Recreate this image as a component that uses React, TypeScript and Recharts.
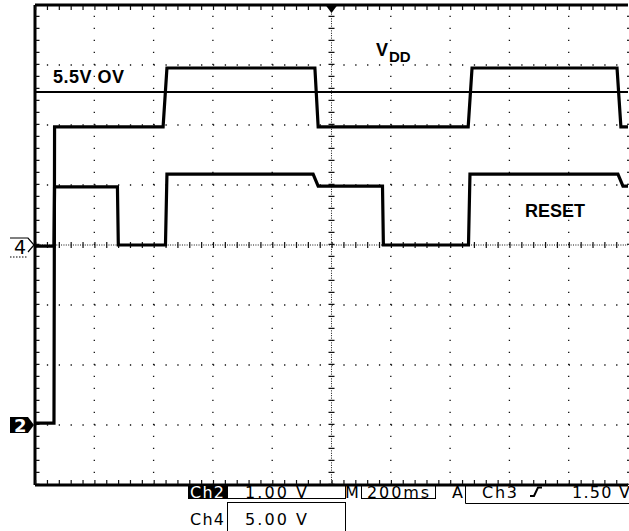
import { LineChart, Line, XAxis, YAxis, ReferenceLine, ReferenceDot } from 'recharts';

// time base: 200 ms/div, 10 divisions
const TIME_TICKS = [0, 200, 400, 600, 800, 1000, 1200, 1400, 1600, 1800, 2000];
const DIV_TICKS = [-4, -3, -2, -1, 0, 1, 2, 3, 4];

// Ch2 = VDD (1.00 V/div, ground 3 div below centre)
const CH2_VDIV = 1;
const CH2_POS = -3;
const VDD_T = [0, 64, 66, 432, 445, 944, 955, 1461, 1474, 1963, 1976, 2000];
const VDD_V = [0.03, 0.03, 4.97, 4.97, 5.95, 5.95, 4.97, 4.97, 5.95, 5.95, 4.97, 4.97];

// Ch4 = RESET (5.00 V/div, ground at centre)
const CH4_VDIV = 5;
const CH4_POS = 0;
const RESET_T = [0, 64, 66, 278, 281, 440, 445, 938, 955, 1172, 1175, 1462, 1467, 1966, 1983, 2000];
const RESET_V = [-0.1, -0.1, 4.85, 4.85, 0, 0, 5.9, 5.9, 4.9, 4.9, 0, 0, 5.9, 5.9, 4.9, 4.9];

// over-voltage threshold on Ch2
const OV_LEVEL = 5.55;
const OV_LABEL = '5.5V OV';

const READOUT_CH2 = ['Ch2', '1.00 V'];
const READOUT_CH4 = ['Ch4', '5.00 V'];
const READOUT_TIME = ['M', '200ms'];
const READOUT_TRIG = ['A', 'Ch3', '1.50 V'];

const vddData = VDD_T.map((t, i) => ({ t, y: VDD_V[i] / CH2_VDIV + CH2_POS }));
const resetData = RESET_T.map((t, i) => ({ t, y: RESET_V[i] / CH4_VDIV + CH4_POS }));

const W = 640;
const H = 531;
const M = { top: 5, left: 35, right: 12, bottom: 46 };
const PX_X = (W - M.left - M.right) / 10 / 5; // minor step horizontally
const PX_Y = (H - M.top - M.bottom) / 8 / 5; // minor step vertically
const MS_PER_PX = 2000 / (W - M.left - M.right);
const DIV_PER_PX = 8 / (H - M.top - M.bottom);

const INK = '#111';

function ChannelMarker(props: any) {
  const { cx, cy, label, filled } = props;
  const l = cx - 25;
  const r = cx - 7;
  if (filled) {
    return (
      <g>
        <path d={`M${l} ${cy - 8} L${r} ${cy - 8} L${cx - 1} ${cy} L${r} ${cy + 8} L${l} ${cy + 8} Z`} fill="#000" />
        <text x={l + 4} y={cy + 7} fill="#fff" fontFamily="DejaVu Sans" fontWeight="bold" fontSize={18}>{label}</text>
      </g>
    );
  }
  return (
    <g>
      <path d={`M${l} ${cy - 7} L${r} ${cy - 7} L${cx - 1} ${cy} L${r} ${cy + 7}`} fill="none" stroke="#000" strokeWidth={1.2} />
      <line x1={l} y1={cy + 12} x2={r} y2={cy + 12} stroke="#000" strokeWidth={1} strokeDasharray="1.5 1.5" />
      <text x={l + 4} y={cy + 9} fill="#000" fontFamily="DejaVu Sans" fontSize={19}>{label}</text>
    </g>
  );
}

function TriggerMark(props: any) {
  const { cx, cy } = props;
  return <path d={`M${cx - 6} ${cy} L${cx + 6} ${cy} L${cx} ${cy + 8} Z`} fill="#000" />;
}

export default function App() {
  const gridT = TIME_TICKS.filter((t) => t !== 0 && t !== 1000);
  const gridY = DIV_TICKS.filter((d) => d !== 0 && Math.abs(d) !== 4);
  const ro = { fontFamily: 'DejaVu Sans', fontSize: 16 } as const;

  return (
    <div style={{ position: 'absolute', left: 0, top: 0, width: 629, height: 531, overflow: 'hidden', background: '#fff' }}>
      <LineChart width={W} height={H} margin={M}>
        <XAxis type="number" dataKey="t" domain={[0, 2000]} ticks={TIME_TICKS} hide allowDataOverflow />
        <YAxis type="number" domain={[-4, 4]} ticks={DIV_TICKS} hide allowDataOverflow />

        {gridT.map((t) => (
          <ReferenceLine key={'gx' + t} x={t} stroke={INK} strokeWidth={1.3} strokeDasharray={`1.3 ${PX_Y - 1.3}`} />
        ))}
        {gridY.map((d) => (
          <ReferenceLine key={'gy' + d} y={d} stroke={INK} strokeWidth={1.3} strokeDasharray={`1.3 ${PX_X - 1.3}`} />
        ))}

        {/* centre crosshair with minor ticks */}
        <ReferenceLine x={1000} stroke={INK} strokeWidth={1} strokeDasharray="1 1.4" />
        <ReferenceLine x={1000} stroke={INK} strokeWidth={6} strokeDasharray={`1.2 ${PX_Y - 1.2}`} />
        <ReferenceLine y={0} stroke={INK} strokeWidth={1} strokeDasharray="1 1.37" />
        <ReferenceLine y={0} stroke={INK} strokeWidth={6} strokeDasharray={`1.2 ${PX_X - 1.2}`} />

        {/* frame with inner ticks */}
        <ReferenceLine x={0} stroke="#000" strokeWidth={3} />
        <ReferenceLine x={2.5 * MS_PER_PX} stroke={INK} strokeWidth={4} strokeDasharray={`1.2 ${PX_Y - 1.2}`} />
        <ReferenceLine y={4} stroke="#000" strokeWidth={3} />
        <ReferenceLine y={4 - 3 * DIV_PER_PX} stroke={INK} strokeWidth={4} strokeDasharray={`1.2 ${PX_X - 1.2}`} />
        <ReferenceLine y={-4} stroke="#000" strokeWidth={3} />
        <ReferenceLine y={-4 + 3 * DIV_PER_PX} stroke={INK} strokeWidth={4} strokeDasharray={`1.2 ${PX_X - 1.2}`} />
        <ReferenceLine x={2000} stroke={INK} strokeWidth={1.3} strokeDasharray={`1.3 ${PX_Y - 1.3}`} />

        <ReferenceLine
          y={OV_LEVEL / CH2_VDIV + CH2_POS}
          stroke="#000"
          strokeWidth={2}
          label={(p: any) => (
            <text
              x={p.viewBox.x + 18}
              y={p.viewBox.y - 9}
              fontFamily="Liberation Sans"
              fontWeight="bold"
              fontSize={18}
              letterSpacing={0.5}
              fill="#000"
            >
              {OV_LABEL}
            </text>
          )}
        />

        <Line data={vddData} dataKey="y" type="linear" stroke="#000" strokeWidth={3.2} dot={false} isAnimationActive={false} />
        <Line data={resetData} dataKey="y" type="linear" stroke="#000" strokeWidth={3.2} dot={false} isAnimationActive={false} />

        <ReferenceDot x={1000} y={4} r={0} ifOverflow="visible" shape={(p: any) => <TriggerMark {...p} />} />
        <ReferenceDot x={0} y={CH4_POS} r={0} ifOverflow="visible" shape={(p: any) => <ChannelMarker {...p} label="4" />} />
        <ReferenceDot x={0} y={CH2_POS} r={0} ifOverflow="visible" shape={(p: any) => <ChannelMarker {...p} label="2" filled />} />
      </LineChart>

      <svg width={629} height={531} style={{ position: 'absolute', left: 0, top: 0, pointerEvents: 'none' }}>
        <g fontFamily="Liberation Sans" fontWeight="bold" fill="#000">
          <text x={376} y={56} fontSize={18}>V</text>
          <text x={389} y={62} fontSize={15}>DD</text>
          <text x={525} y={217} fontSize={18}>RESET</text>
        </g>

        <g style={ro} fill="#000">
          <rect x={188} y={484} width={39} height={15} fill="#000" />
          <text x={190} y={497.5} fill="#fff" textLength={34} lengthAdjust="spacing">{READOUT_CH2[0]}</text>
          <rect x={227.5} y={485.5} width={118} height={13} fill="none" stroke="#000" strokeWidth={1} />
          <text x={245} y={497.5} textLength={62} lengthAdjust="spacing">{READOUT_CH2[1]}</text>

          <text x={190} y={524.5} textLength={34} lengthAdjust="spacing">{READOUT_CH4[0]}</text>
          <rect x={227.5} y={502.5} width={118} height={40} fill="none" stroke="#000" strokeWidth={1} />
          <text x={245} y={524.5} textLength={62} lengthAdjust="spacing">{READOUT_CH4[1]}</text>

          <text x={345} y={497.5} textLength={12} lengthAdjust="spacing">{READOUT_TIME[0]}</text>
          <rect x={361.5} y={485.5} width={74} height={13} fill="none" stroke="#000" strokeWidth={1} />
          <text x={367} y={497.5} textLength={62} lengthAdjust="spacing">{READOUT_TIME[1]}</text>

          <text x={452} y={497.5} textLength={11} lengthAdjust="spacing">{READOUT_TRIG[0]}</text>
          <path d="M465.5 485 L465.5 503.5 L640 503.5" fill="none" stroke="#000" strokeWidth={1} />
          <text x={482} y={497.5} textLength={35} lengthAdjust="spacing">{READOUT_TRIG[1]}</text>
          <path d="M530 496 L534 496 L538 487.5 L542 487.5" fill="none" stroke="#000" strokeWidth={2} />
          <text x={572} y={497.5} textLength={58} lengthAdjust="spacing">{READOUT_TRIG[2]}</text>
        </g>
      </svg>
    </div>
  );
}
